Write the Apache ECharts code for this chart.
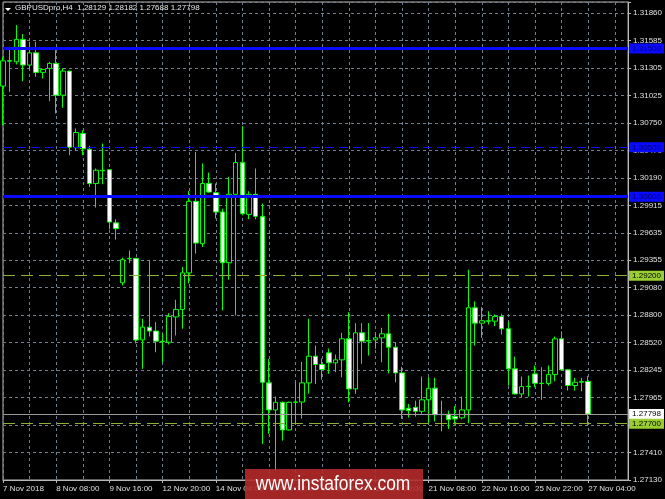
<!DOCTYPE html>
<html><head><meta charset="utf-8">
<script src="https://cdn.jsdelivr.net/npm/echarts@6/dist/echarts.min.js"></script>
<style>html,body{margin:0;padding:0;background:#000;} #c{width:665px;height:499px;}</style>
</head><body><div id="c"></div>
<script>
// ---- data ----
const symbolName = 'GBPUSDpro,H4';
const sessions = [
  ['7 Nov',[0,4,8,12,16,20]],['8 Nov',[0,4,8,12,16,20]],['9 Nov',[0,4,8,12,16,20]],
  ['11 Nov',[22]],['12 Nov',[0,4,8,12,16,20]],['13 Nov',[0,4,8,12,16,20]],['14 Nov',[0,4,8,12,16,20]],
  ['15 Nov',[0,4,8,12,16,20]],['16 Nov',[0,4,8,12,16,20]],['18 Nov',[22]],['19 Nov',[0,4,8,12,16,20]],
  ['20 Nov',[0,4,8,12,16,20]],['21 Nov',[0,4,8,12,16,20]],['22 Nov',[0,4,8,12,16,20]],['23 Nov',[0,4,8,12,16,20]],
  ['25 Nov',[22]],['26 Nov',[0,4,8,12,16,20]],['27 Nov',[0,4]]
];
const firstLabel = '7 Nov 2018';
const emptySlots = 6;

const open = [1.31120,1.31378,1.31366,1.31593,1.31333,1.31457,1.31259,1.31299,1.31350,1.31028,
1.31272,1.30496,1.30640,1.30481,1.30133,1.30268,1.30273,1.29735,1.29128,1.29370,
1.29375,1.28550,1.28678,1.28639,1.28536,1.28526,1.28782,1.28858,1.29228,1.29953,
1.29524,1.30133,1.30040,1.29845,1.29331,1.30024,1.30346,1.29821,1.30024,1.29801,
1.28114,1.27840,1.27917,1.27637,1.27917,1.27920,1.28114,1.28384,1.28300,1.28418,
1.28317,1.28347,1.28560,1.28053,1.28621,1.28536,1.28550,1.28570,1.28611,1.28475,
1.28215,1.27858,1.27866,1.27826,1.27942,1.28059,1.27792,1.27795,1.27775,1.27760,
1.27840,1.28875,1.28719,1.28743,1.28739,1.28787,1.28662,1.28256,1.28002,1.28076,
1.28205,1.28110,1.28107,1.28198,1.28560,1.28246,1.28087,1.28120,1.28129];
const high = [1.31417,1.31518,1.31738,1.31647,1.31569,1.31569,1.31292,1.31366,1.31485,1.31302,
1.31275,1.30691,1.30673,1.30514,1.30285,1.30538,1.30278,1.29771,1.29382,1.29456,
1.29380,1.28763,1.29355,1.28729,1.28614,1.28820,1.28956,1.29287,1.30058,1.30453,
1.30336,1.30244,1.30133,1.29879,1.30200,1.30443,1.30714,1.30055,1.30285,1.29930,
1.28357,1.27975,1.27924,1.27924,1.28122,1.28325,1.28763,1.28492,1.28361,1.28462,
1.28401,1.28621,1.28830,1.28719,1.28719,1.28719,1.28611,1.28672,1.28814,1.28520,
1.28276,1.27901,1.27934,1.28178,1.28171,1.28165,1.27934,1.27833,1.27877,1.27975,
1.29260,1.28939,1.28881,1.28840,1.28807,1.28814,1.28736,1.28381,1.28178,1.28188,
1.28290,1.28272,1.28290,1.28584,1.28634,1.28250,1.28165,1.28165,1.28182];
const low = [1.30724,1.31062,1.31340,1.31170,1.31282,1.31214,1.31198,1.30968,1.30843,1.30900,
1.30420,1.30470,1.30420,1.30098,1.29889,1.30126,1.29669,1.29565,1.29101,1.29327,
1.28513,1.28256,1.28584,1.28424,1.28323,1.28503,1.28594,1.28662,1.29121,1.29423,
1.29490,1.30039,1.29778,1.28847,1.29159,1.28797,1.29811,1.29771,1.29771,1.27495,
1.27597,1.27224,1.27529,1.27630,1.27701,1.27752,1.28005,1.28104,1.28147,1.28205,
1.28222,1.28171,1.27917,1.28002,1.28307,1.28391,1.28459,1.28323,1.28211,1.28120,
1.27749,1.27762,1.27772,1.27800,1.27698,1.27724,1.27623,1.27647,1.27691,1.27745,
1.27704,1.28492,1.28570,1.28705,1.28688,1.28604,1.28087,1.27995,1.27968,1.27975,
1.28069,1.27942,1.28087,1.28130,1.28239,1.28036,1.28036,1.28029,1.27688];
const close = [1.31376,1.31373,1.31593,1.31333,1.31457,1.31259,1.31289,1.31350,1.31028,1.31272,
1.30501,1.30650,1.30486,1.30133,1.30268,1.30263,1.29743,1.29676,1.29362,1.29375,
1.28548,1.28678,1.28639,1.28536,1.28533,1.28787,1.28858,1.29228,1.29953,1.29530,
1.30133,1.30047,1.29845,1.29331,1.30024,1.30346,1.29828,1.30024,1.29801,1.28120,
1.27840,1.27917,1.27637,1.27917,1.27920,1.28114,1.28384,1.28300,1.28249,1.28317,
1.28347,1.28560,1.28053,1.28621,1.28536,1.28543,1.28570,1.28611,1.28475,1.28215,
1.27840,1.27833,1.27826,1.27942,1.28059,1.27792,1.27795,1.27742,1.27749,1.27840,
1.28875,1.28719,1.28743,1.28739,1.28787,1.28662,1.28256,1.28002,1.28076,1.28080,
1.28110,1.28107,1.28198,1.28560,1.28246,1.28087,1.28120,1.28129,1.27798];

const yLabels = ['1.27130','1.27410','1.27685','1.27965','1.28245','1.28520','1.28800','1.29080','1.29355',
'1.29635','1.29915','1.30190','1.30470','1.30750','1.31025','1.31305','1.31585','1.31860'];
const yMin = 1.2713;
const yStep = 0.00278235;
const yMax = 1.31972;

const levelValues = [1.31500, 1.30500, 1.30000, 1.29200, 1.27798, 1.27700];
const levelKinds  = ['blueThick','blueDash','blueThick','greenDash','price','greenDash'];

// ---- build ----
const categories = [];
sessions.forEach(([d, hours]) => hours.forEach(h => categories.push(d + ' ' + String(h).padStart(2,'0') + ':00')));
for (let i = 0; i < emptySlots; i++) categories.push('');
const ohlc = open.map((o, i) => [o, close[i], low[i], high[i]]);
const last = open.length - 1;
const titleText = symbolName + '  ' + [open[last], high[last], low[last], close[last]].map(v => v.toFixed(5)).join(' ');

const FONT = '"Liberation Sans", Arial, sans-serif';
const gridColor = '#6f7f8f';
const kindStyle = {
  blueThick: {line:{color:'#0a0aff', width:3, type:'solid'}, bg:'#0a0aff', fg:'#000070'},
  blueDash:  {line:{color:'#0a0aff', width:1, type:[9,5]}, bg:'#0a0aff', fg:'#000070'},
  greenDash: {line:{color:'#8fb030', width:1, type:[12,6]}, bg:'#9acd32', fg:'#000'},
  price:     {line:{color:'#9a9a9a', width:1, type:'solid'}, bg:'#ffffff', fg:'#000'}
};

const chart = echarts.init(document.getElementById('c'), null, {renderer:'canvas'});
chart.setOption({
  animation: false,
  backgroundColor: '#000',
  title: {text: titleText, left: 15, top: 4, padding: 0,
    textStyle: {color:'#e8e8e8', fontSize: 8, fontWeight:'normal', fontFamily: FONT}},
  grid: {left: 2, right: 35, top: 2, bottom: 19, show: true, borderColor:'#b8b8b8', borderWidth:1, backgroundColor:'#000'},
  xAxis: {
    type:'category', data: categories, boundaryGap: false,
    axisLine: {show:true, lineStyle:{color:'#b8b8b8', width:1}},
    axisTick: {show:true, interval:7, length:3, lineStyle:{color:'#b8b8b8'}},
    axisLabel: {interval:7, align:'left', margin:5, color:'#e0e0e0', fontSize:8, fontFamily: FONT,
      formatter: (v, i) => i === 0 ? firstLabel : v},
    splitLine: {show:true, interval:3, lineStyle:{color:gridColor, type:[3,3], width:1}}
  },
  yAxis: {
    type:'value', position:'right', min: yMin, max: yMax, interval: yStep, scale: true,
    axisLine: {show:true, lineStyle:{color:'#b8b8b8', width:1}},
    axisTick: {show:true, length:3, lineStyle:{color:'#b8b8b8'}},
    axisLabel: {margin:5, color:'#e0e0e0', fontSize:8, fontFamily: FONT,
      formatter: v => {
        const k = Math.round((v - yMin) / yStep);
        if (k < 0 || k >= yLabels.length || Math.abs(v - (yMin + k * yStep)) > yStep * 0.01) return '';
        return yLabels[k];
      }},
    splitLine: {show:true, lineStyle:{color:gridColor, type:[3,3], width:1}}
  },
  series: [{
    type:'candlestick', data: ohlc, barWidth: 5,
    itemStyle: {color:'#000000', color0:'#ffffff', borderColor:'#00ff00', borderColor0:'#00ff00', borderColorDoji:'#00ff00', borderWidth:1},
    markLine: {
      silent: true, symbol:['none','none'], animation:false, precision: 5,
      data: levelValues.map((v, i) => {
        const s = kindStyle[levelKinds[i]];
        return {yAxis: v, lineStyle: s.line,
          label: {show:true, position:'end', distance:1, formatter: () => v.toFixed(5),
            backgroundColor: s.bg, color: s.fg, fontSize: 8, fontFamily: FONT, padding:[1,3,0,3], lineHeight:9}};
      })
    }
  }],
  graphic: [
    {type:'polygon', z:100, shape:{points:[[5,8],[11,8],[8,11]]}, style:{fill:'#ffffff'}},
    {type:'rect', z:100, shape:{x:245, y:469, width:178, height:30}, style:{fill:'rgba(180,42,42,0.9)'}},
    {type:'text', z:101, x:333, y:484, scaleX:0.87, style:{text:'www.instaforex.com', x:0, y:0, fill:'#ffffff',
      font:'20px "Liberation Sans", Arial, sans-serif', textAlign:'center', textVerticalAlign:'middle'}}
  ]
});
</script></body></html>
